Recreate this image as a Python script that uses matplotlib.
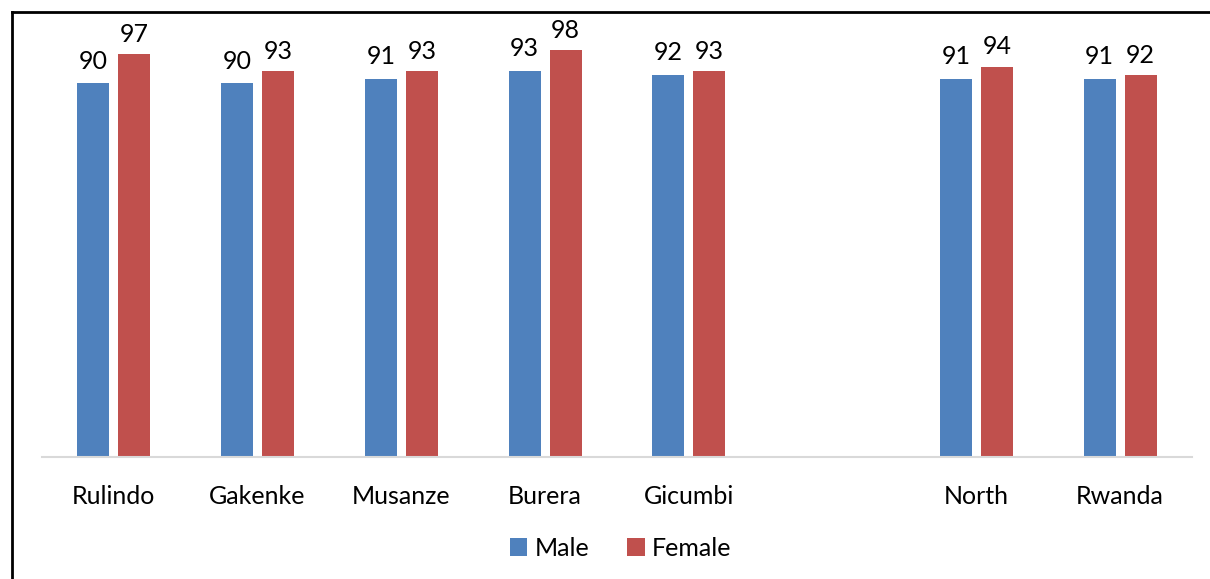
import matplotlib
matplotlib.use("Agg")
import matplotlib.pyplot as plt
from matplotlib.lines import Line2D
import numpy as np

categories = ["Rulindo", "Gakenke", "Musanze", "Burera", "Gicumbi", "", "North", "Rwanda"]
male = [90, 90, 91, 93, 92, None, 91, 91]
female = [97, 93, 93, 98, 93, None, 94, 92]

blue = "#4f81bd"
red = "#c0504d"

plt.rcParams["font.family"] = ["Lato", "DejaVu Sans"]

fig = plt.figure(figsize=(12.1, 5.79), dpi=100)
ax = fig.add_axes([0.0347, 0.2107, 0.9504, 0.717])

x = np.arange(len(categories))
w = 0.223
for i in range(len(categories)):
    if male[i] is None:
        continue
    ax.bar(x[i] - 0.143, male[i], w, color=blue, label="Male" if i == 0 else None)
    ax.bar(x[i] + 0.143, female[i], w, color=red, label="Female" if i == 0 else None)
    ax.text(x[i] - 0.143, male[i] + 2.6, str(male[i]), ha="center", va="bottom", fontsize=18, clip_on=False)
    ax.text(x[i] + 0.143, female[i] + 2.0, str(female[i]), ha="center", va="bottom", fontsize=18, clip_on=False)

ax.set_xlim(-0.5, len(categories) - 0.5)
ax.set_ylim(0, 100)
ax.set_xticks(x)
ax.set_xticklabels(categories, fontsize=18)
ax.tick_params(axis="x", length=0, pad=20)
ax.set_yticks([])
for s in ["top", "right", "left"]:
    ax.spines[s].set_visible(False)
ax.spines["bottom"].set_color("#d9d9d9")
ax.spines["bottom"].set_linewidth(1.5)

fig.legend(loc="center", bbox_to_anchor=(0.513, 0.053), ncol=2, frameon=False, fontsize=18,
           handlelength=0.7, handleheight=0.7, handletextpad=0.3, columnspacing=1.5)

# outer frame
fig.add_artist(Line2D([12 / 1210, 12 / 1210], [0, 1 - 12 / 579], color="black", lw=2, transform=fig.transFigure))
fig.add_artist(Line2D([12 / 1210, 1], [1 - 12 / 579, 1 - 12 / 579], color="black", lw=2, transform=fig.transFigure))

fig.savefig("out.png", dpi=100)
